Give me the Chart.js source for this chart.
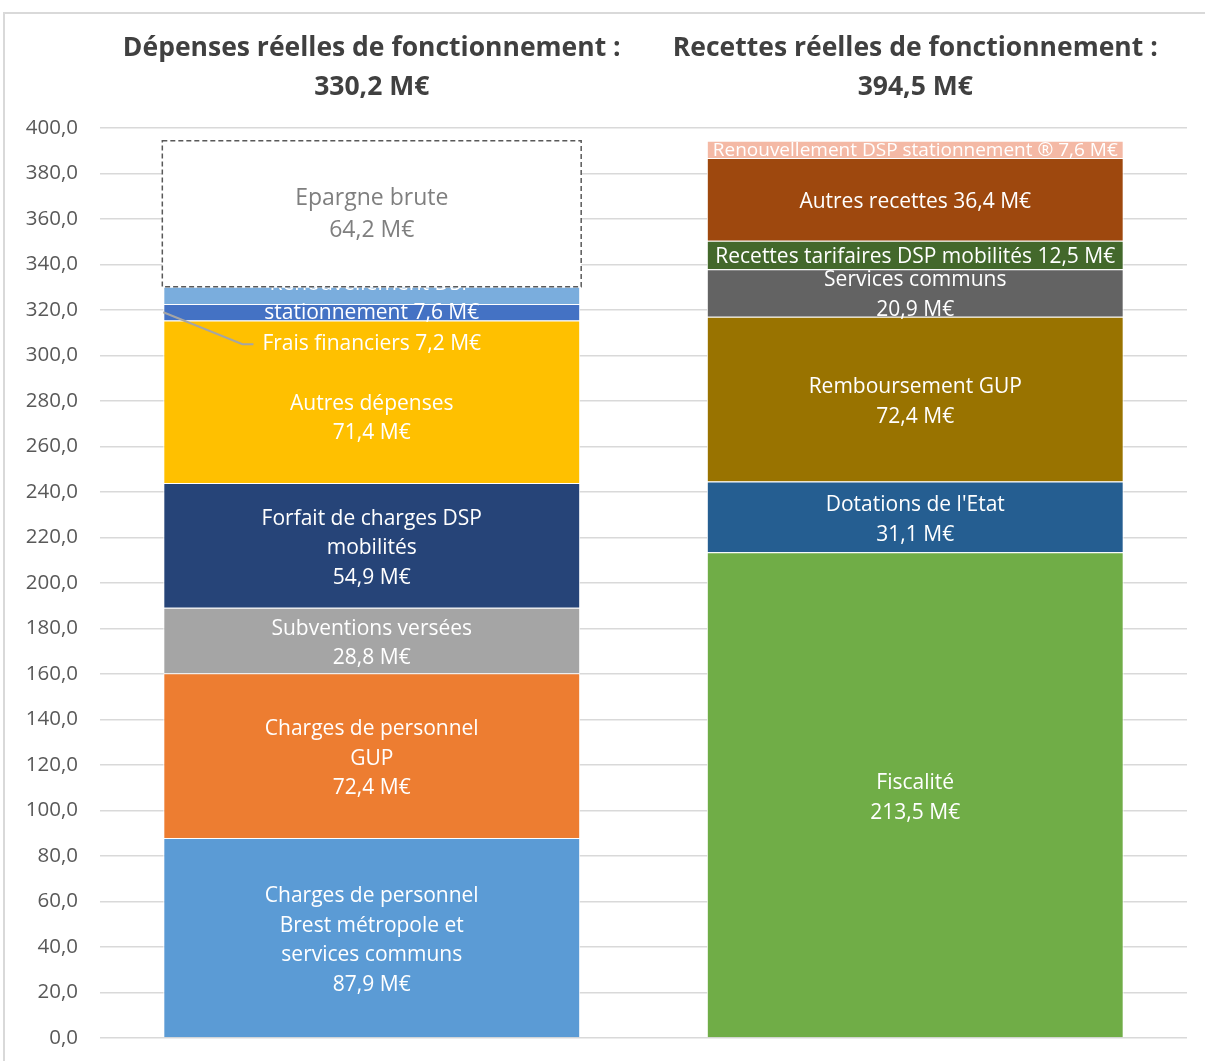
<!DOCTYPE html>
<html><head><meta charset="utf-8">
<script src="https://cdn.jsdelivr.net/npm/chart.js@4"></script>
<style>
html,body{margin:0;padding:0;background:#fff;overflow:hidden;width:1205px;height:1061px;}
#frame{position:absolute;left:3px;top:12px;width:1230px;height:1080px;border:2px solid #d9d9d9;box-sizing:border-box;}
#c{position:absolute;left:0;top:0;width:1205px;height:1061px;}
</style></head><body>
<div id="frame"></div>
<canvas id="c" width="1205" height="1061"></canvas>
<script>
// ---- DATA ----
const categories = [
  ["Dépenses réelles de fonctionnement :", "330,2 M€"],
  ["Recettes réelles de fonctionnement :", "394,5 M€"]
];
const yMin = 0, yMax = 400, yStep = 20;

const depNames = [
  ["Charges de personnel", "Brest métropole et", "services communs", "{v}"],
  ["Charges de personnel", "GUP", "{v}"],
  ["Subventions versées", "{v}"],
  ["Forfait de charges DSP", "mobilités", "{v}"],
  ["Autres dépenses", "{v}"],
  ["Frais financiers {v}"],
  ["Renouvellement DSP", "stationnement {v}"],
  ["Epargne brute", "{v}"]
];
const depValues = [87.9, 72.4, 28.8, 54.9, 71.4, 7.2, 7.6, 64.2];

const recNames = [
  ["Fiscalité", "{v}"],
  ["Dotations de l'Etat", "{v}"],
  ["Remboursement GUP", "{v}"],
  ["Services communs", "{v}"],
  ["Recettes tarifaires DSP mobilités {v}"],
  ["Autres recettes {v}"],
  ["Renouvellement DSP stationnement ® {v}"]
];
const recValues = [213.5, 31.1, 72.4, 20.9, 12.5, 36.4, 7.6];

// ---- STYLE ----
const depColors = ["#5B9BD5", "#ED7D31", "#A5A5A5", "#264478", "#FFC000", "#4472C4", "#7AADDD", "#FFFFFF"];
const recColors = ["#70AD47", "#255E91", "#997300", "#636363", "#43682B", "#9E480E", "#F4B9A5"];
const depLabelOffsets = [3, 3, 3, 3, 17, 32, 3, 1];
const recLabelOffsets = [3, 3, 3, 2, 2, 3, 1];
const FONT = '"Open Sans", "Noto Sans", sans-serif';

const fmt = v => v.toFixed(1).replace('.', ',');
const fmtM = v => fmt(v) + ' M€';

const datasets = [];
depValues.forEach((v, i) => {
  datasets.push({
    label: depNames[i].join(' ').replace('{v}', fmtM(v)),
    data: [v, null],
    backgroundColor: depColors[i],
    borderColor: '#ffffff',
    borderWidth: i === 7 ? 0 : 1,
    lines: depNames[i].map(s => s.replace('{v}', fmtM(v))),
    offsetY: depLabelOffsets[i],
    leader: i === 5,
    epargne: i === 7,
    textColor: i === 7 ? '#7F7F7F' : '#FFFFFF',
    fontSize: i === 7 ? 23 : 21,
    lineH: i === 7 ? 32 : 29.5
  });
});
recValues.forEach((v, i) => {
  datasets.push({
    label: recNames[i].join(' ').replace('{v}', fmtM(v)),
    data: [null, v],
    backgroundColor: recColors[i],
    borderColor: '#ffffff',
    borderWidth: 1,
    lines: recNames[i].map(s => s.replace('{v}', fmtM(v))),
    offsetY: recLabelOffsets[i],
    leader: false,
    epargne: false,
    textColor: '#FFFFFF',
    fontSize: i === 6 ? 19 : 21,
    lineH: 29.5
  });
});

const labelPlugin = {
  id: 'segLabels',
  afterDatasetsDraw(chart) {
    const ctx = chart.ctx;
    ctx.save();
    ctx.textAlign = 'center';
    ctx.textBaseline = 'middle';
    const drawLabel = (ds, el) => {
      ctx.font = ds.fontSize + 'px ' + FONT;
      const LH = ds.lineH;
      const cy = (el.y + el.base) / 2 + ds.offsetY;
      const n = ds.lines.length;
      ctx.fillStyle = ds.textColor;
      ds.lines.forEach((t, k) => {
        ctx.fillText(t, el.x, cy + (k - (n - 1) / 2) * LH);
      });
      if (ds.leader) {
        const w = Math.max(...ds.lines.map(t => ctx.measureText(t).width));
        const tl = el.x - w / 2;
        ctx.save();
        ctx.strokeStyle = '#A5A5A5';
        ctx.lineWidth = 2;
        ctx.beginPath();
        ctx.moveTo(el.x - el.width / 2, (el.y + el.base) / 2);
        ctx.lineTo(tl - 20, cy);
        ctx.lineTo(tl - 9, cy);
        ctx.stroke();
        ctx.restore();
      }
    };
    const epList = [];
    chart.data.datasets.forEach((ds, i) => {
      const meta = chart.getDatasetMeta(i);
      meta.data.forEach((el, j) => {
        if (ds.data[j] == null) return;
        if (ds.epargne) { epList.push([ds, el]); return; }
        drawLabel(ds, el);
      });
    });
    epList.forEach(([ds, el]) => {
      const x0 = el.x - el.width / 2 - 1, x1 = el.x + el.width / 2 + 1;
      const y0 = el.y, y1 = el.base;
      ctx.fillStyle = '#FFFFFF';
      ctx.fillRect(x0, y0, x1 - x0, y1 - y0);
      ctx.save();
      ctx.strokeStyle = '#595959';
      ctx.lineWidth = 1.5;
      ctx.setLineDash([5, 3]);
      ctx.strokeRect(x0, y0, x1 - x0, y1 - y0);
      ctx.restore();
      drawLabel(ds, el);
    });
    ctx.restore();
  }
};

new Chart(document.getElementById('c'), {
  type: 'bar',
  data: { labels: categories, datasets },
  plugins: [labelPlugin],
  options: {
    responsive: false,
    animation: false,
    devicePixelRatio: 1,
    layout: { padding: { left: 0, right: 18, top: 1, bottom: 23 } },
    datasets: { bar: { categoryPercentage: 1, barPercentage: 0.767, skipNull: false } },
    plugins: { legend: { display: false }, tooltip: { enabled: false } },
    scales: {
      x: {
        stacked: true,
        position: 'top',
        grid: { display: false, drawTicks: false },
        border: { display: false },
        ticks: {
          color: '#404040',
          padding: 21,
          maxRotation: 0,
          autoSkip: false,
          font: { family: FONT, size: 26.5, weight: 'bold', lineHeight: 1.47 }
        },
        afterFit: s => { s.height = 127; }
      },
      y: {
        stacked: true,
        min: yMin, max: yMax,
        grid: { color: '#D9D9D9', lineWidth: 1.5, drawTicks: false },
        border: { display: false },
        ticks: {
          stepSize: yStep,
          color: '#595959',
          padding: 22,
          font: { family: FONT, size: 20.5 },
          callback: v => fmt(v)
        },
        afterFit: s => { s.width = 100; s.paddingTop = 0; s.paddingBottom = 0; }
      }
    }
  }
});
</script>
</body></html>
